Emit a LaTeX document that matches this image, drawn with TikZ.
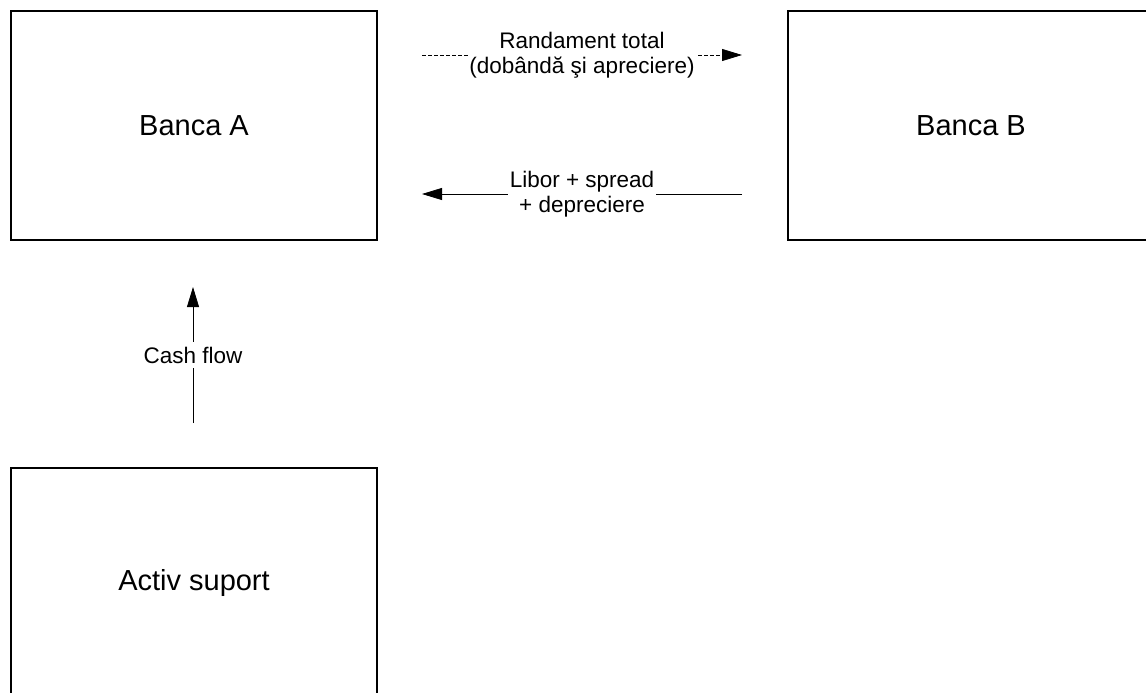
\documentclass[tikz,border=0pt]{standalone}
\usepackage{fontspec}
\setmainfont{Liberation Sans}
\usetikzlibrary{arrows.meta}
\tikzset{
  box/.style={draw=black, line width=1.2pt, minimum width=366pt, minimum height=229pt, inner sep=0pt, font=\fontsize{29}{34}\selectfont},
  conn/.style={draw=black, line width=0.8pt, -{Triangle[length=20pt,width=12pt]}},
  lbl/.style={fill=white, align=center, inner xsep=1.5pt, inner ysep=4.5pt, font=\fontsize{22.5}{25}\selectfont},
  dashedconn/.style={conn, dash pattern=on 4pt off 2pt}
}
\begin{document}
\begin{tikzpicture}[x=1pt, y=-1pt]
\useasboundingbox (0,0) rectangle (1146,693);
\clip (0,0) rectangle (1146,693);
\node[box] (A) at (194,125.5) {Banca A};
\node[box] (B) at (971,125.5) {Banca B};
\node[box] (S) at (194,582.5) {Activ suport};
\coordinate (t1) at (422,55);
\coordinate (t2) at (742,55);
\coordinate (b1) at (742,194);
\coordinate (b2) at (422,194);
\coordinate (c1) at (193,423);
\coordinate (c2) at (193,287);
\draw[dashedconn] (t1) -- node[lbl] {Randament total\\(dobândă şi apreciere)} (t2);
\draw[conn] (b1) -- node[lbl] {Libor + spread\\+ depreciere} (b2);
\draw[conn] (c1) -- node[lbl] {Cash flow} (c2);
\end{tikzpicture}
\end{document}
